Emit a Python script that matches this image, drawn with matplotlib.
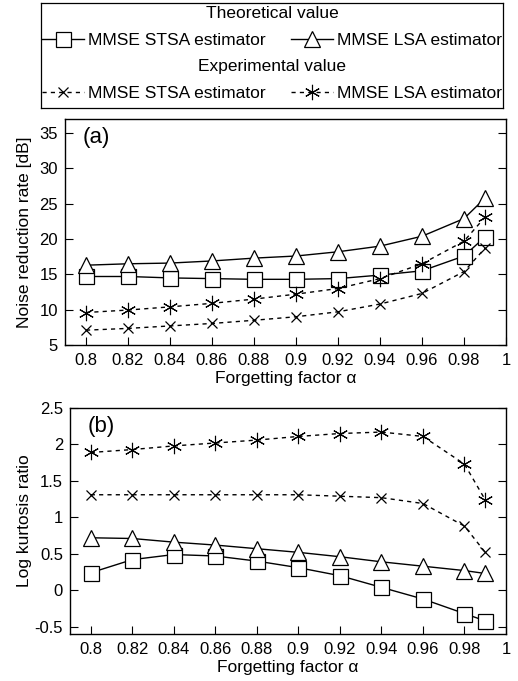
import matplotlib
matplotlib.use('Agg')
import matplotlib.pyplot as plt
from matplotlib.ticker import FormatStrFormatter

plt.rcParams['font.family'] = ['Liberation Sans', 'DejaVu Sans']

alpha = [0.8, 0.82, 0.84, 0.86, 0.88, 0.9, 0.92, 0.94, 0.96, 0.98, 0.99]

# (a) noise reduction rate [dB]
nrr_stsa_theory = [14.7, 14.7, 14.5, 14.4, 14.3, 14.3, 14.4, 14.9, 15.5, 17.6, 20.3]
nrr_lsa_theory = [16.3, 16.5, 16.6, 16.9, 17.3, 17.6, 18.2, 19.0, 20.4, 22.9, 25.8]
nrr_stsa_exp = [7.1, 7.35, 7.7, 8.05, 8.5, 9.0, 9.7, 10.8, 12.3, 15.4, 18.7]
nrr_lsa_exp = [9.6, 9.95, 10.4, 10.9, 11.5, 12.2, 13.0, 14.4, 16.5, 19.7, 23.1]

# (b) log kurtosis ratio
lkr_stsa_theory = [0.24, 0.42, 0.49, 0.47, 0.40, 0.31, 0.20, 0.04, -0.12, -0.32, -0.42]
lkr_lsa_theory = [0.72, 0.71, 0.66, 0.62, 0.57, 0.52, 0.46, 0.39, 0.33, 0.27, 0.23]
lkr_stsa_exp = [1.31, 1.31, 1.31, 1.31, 1.31, 1.31, 1.29, 1.27, 1.19, 0.88, 0.52]
lkr_lsa_exp = [1.89, 1.93, 1.98, 2.02, 2.06, 2.11, 2.15, 2.17, 2.11, 1.73, 1.24]

xticks = [0.8, 0.82, 0.84, 0.86, 0.88, 0.9, 0.92, 0.94, 0.96, 0.98, 1.0]

fig = plt.figure(figsize=(5.18, 6.81), dpi=100)
ax1 = fig.add_axes([65/518, 1 - 345/681, 441/518, 226/681])
ax2 = fig.add_axes([70/518, 1 - 634/681, 436/518, 226/681])

dash = (0, (3, 3))
styles = [
    dict(color='k', lw=1.0, marker='s', ms=10.8, mfc='white', mec='k', mew=0.9, ls='-'),
    dict(color='k', lw=1.0, marker='^', ms=11, mfc='white', mec='k', mew=0.9, ls='-'),
    dict(color='k', lw=1.0, marker='x', ms=7.5, mew=0.9, ls=dash),
    dict(color='k', lw=1.0, marker=(6, 2, 0), ms=11, mew=0.8, ls=dash),
]

def draw(ax, series):
    lines = []
    for ys, st in zip(series, styles):
        ln, = ax.plot(alpha, ys, **st)
        lines.append(ln)
    return lines

lines = draw(ax1, [nrr_stsa_theory, nrr_lsa_theory, nrr_stsa_exp, nrr_lsa_exp])
draw(ax2, [lkr_stsa_theory, lkr_lsa_theory, lkr_stsa_exp, lkr_lsa_exp])

ax1.set_ylim(5, 37)
ax1.set_yticks([5, 10, 15, 20, 25, 30, 35])
ax2.set_ylim(-0.6, 2.5)
ax2.set_yticks([-0.5, 0, 0.5, 1, 1.5, 2, 2.5])
ax2.yaxis.set_major_formatter(FormatStrFormatter('%g'))

for ax, ylab, tag, lx in [(ax1, 'Noise reduction rate [dB]', '(a)', -0.075),
                          (ax2, 'Log kurtosis ratio', '(b)', -0.087)]:
    ax.set_xlim(0.79, 1.0)
    ax.set_xticks(xticks)
    ax.xaxis.set_major_formatter(FormatStrFormatter('%g'))
    ax.tick_params(direction='in', length=6, width=0.8, labelsize=12,
                   left=True, right=True, top=False, bottom=True, pad=5)
    ax.tick_params(axis='x', pad=6)
    ax.set_xlabel('Forgetting factor \u03b1', fontsize=12.5, labelpad=2)
    ax.set_ylabel(ylab, fontsize=12.5)
    ax.yaxis.set_label_coords(lx, 0.5)
    ax.text(0.04, 0.965, tag, transform=ax.transAxes, fontsize=16, ha='left', va='top')
    for s in ax.spines.values():
        s.set_linewidth(1.0)

# legend box
lax = fig.add_axes([41/518, 1 - 108/681, 462/518, 105/681])
lax.set_xticks([])
lax.set_yticks([])
for s in lax.spines.values():
    s.set_linewidth(0.9)
lax.patch.set_alpha(0)

common = dict(ncol=2, frameon=False, fontsize=12.5, title_fontsize=12.5,
              handlelength=2.4, handletextpad=0.25, columnspacing=1.45,
              borderaxespad=0, borderpad=0.15, markerscale=1.0, labelspacing=0.7)
leg1 = lax.legend(lines[:2], ['MMSE STSA estimator', 'MMSE LSA estimator'],
                  title='Theoretical value', loc='upper center',
                  bbox_to_anchor=(0.5, 1.0), **common)
lax.add_artist(leg1)
lax.legend(lines[2:], ['MMSE STSA estimator', 'MMSE LSA estimator'],
           title='Experimental value', loc='upper center',
           bbox_to_anchor=(0.5, 0.49), **common)

fig.savefig('out.png', dpi=100)
